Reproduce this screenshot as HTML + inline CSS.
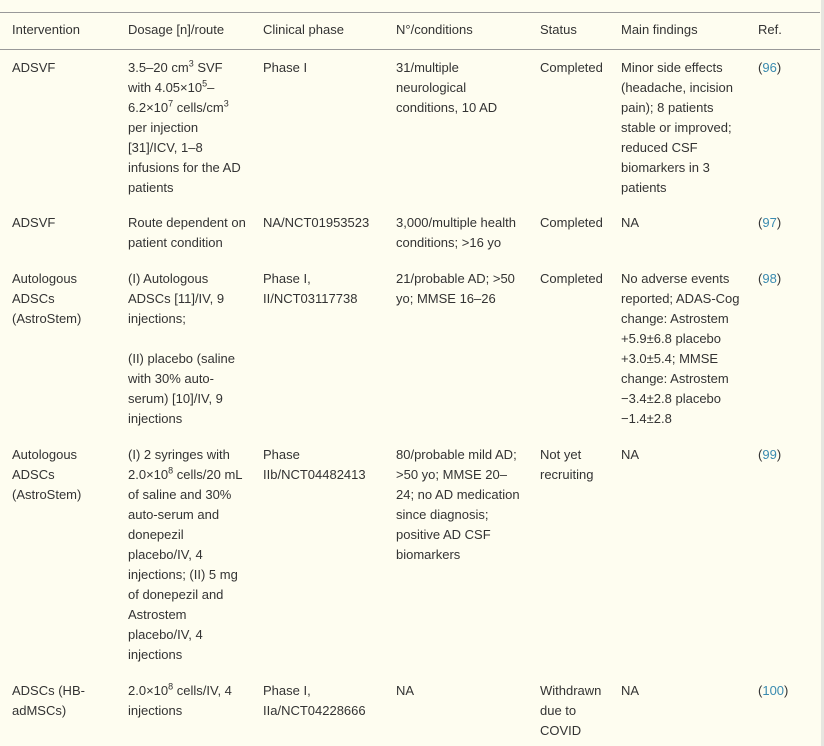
<!DOCTYPE html>
<html><head><meta charset="utf-8"><style>
body{margin:0;width:824px;height:746px;background:#fefdf0;font-family:"Liberation Sans",sans-serif;font-size:13px;color:#333;position:relative;overflow:hidden}
.c{position:absolute;line-height:20px;white-space:nowrap}
.l{position:absolute;left:0;width:820px;height:1px;background:#999}
.r{position:absolute;right:0;top:0;width:3px;height:746px;background:#e6e6e0}
a{color:#3a8bb0;text-decoration:none}
sup{font-size:9px;line-height:0}
</style></head><body>
<div class="l" style="top:12px"></div>
<div class="l" style="top:49px"></div>
<div class="r"></div>
<div class="c" style="left:12px;top:20px">Intervention</div>
<div class="c" style="left:128px;top:20px">Dosage [n]/route</div>
<div class="c" style="left:263px;top:20px">Clinical phase</div>
<div class="c" style="left:396px;top:20px">N°/conditions</div>
<div class="c" style="left:540px;top:20px">Status</div>
<div class="c" style="left:621px;top:20px">Main findings</div>
<div class="c" style="left:758px;top:20px">Ref.</div>

<div class="c" style="left:12px;top:58px">ADSVF</div>
<div class="c" style="left:128px;top:58px">3.5–20 cm<sup>3</sup> SVF<br>with 4.05×10<sup>5</sup>–<br>6.2×10<sup>7</sup> cells/cm<sup>3</sup><br>per injection<br>[31]/ICV, 1–8<br>infusions for the AD<br>patients</div>
<div class="c" style="left:263px;top:58px">Phase I</div>
<div class="c" style="left:396px;top:58px">31/multiple<br>neurological<br>conditions, 10 AD</div>
<div class="c" style="left:540px;top:58px">Completed</div>
<div class="c" style="left:621px;top:58px">Minor side effects<br>(headache, incision<br>pain); 8 patients<br>stable or improved;<br>reduced CSF<br>biomarkers in 3<br>patients</div>
<div class="c" style="left:758px;top:58px">(<a>96</a>)</div>

<div class="c" style="left:12px;top:213px">ADSVF</div>
<div class="c" style="left:128px;top:213px">Route dependent on<br>patient condition</div>
<div class="c" style="left:263px;top:213px">NA/NCT01953523</div>
<div class="c" style="left:396px;top:213px">3,000/multiple health<br>conditions; &gt;16 yo</div>
<div class="c" style="left:540px;top:213px">Completed</div>
<div class="c" style="left:621px;top:213px">NA</div>
<div class="c" style="left:758px;top:213px">(<a>97</a>)</div>

<div class="c" style="left:12px;top:269px">Autologous<br>ADSCs<br>(AstroStem)</div>
<div class="c" style="left:128px;top:269px">(I) Autologous<br>ADSCs [11]/IV, 9<br>injections;<br><br>(II) placebo (saline<br>with 30% auto-<br>serum) [10]/IV, 9<br>injections</div>
<div class="c" style="left:263px;top:269px">Phase I,<br>II/NCT03117738</div>
<div class="c" style="left:396px;top:269px">21/probable AD; &gt;50<br>yo; MMSE 16–26</div>
<div class="c" style="left:540px;top:269px">Completed</div>
<div class="c" style="left:621px;top:269px">No adverse events<br>reported; ADAS-Cog<br>change: Astrostem<br>+5.9±6.8 placebo<br>+3.0±5.4; MMSE<br>change: Astrostem<br>−3.4±2.8 placebo<br>−1.4±2.8</div>
<div class="c" style="left:758px;top:269px">(<a>98</a>)</div>

<div class="c" style="left:12px;top:445px">Autologous<br>ADSCs<br>(AstroStem)</div>
<div class="c" style="left:128px;top:445px">(I) 2 syringes with<br>2.0×10<sup>8</sup> cells/20 mL<br>of saline and 30%<br>auto-serum and<br>donepezil<br>placebo/IV, 4<br>injections; (II) 5 mg<br>of donepezil and<br>Astrostem<br>placebo/IV, 4<br>injections</div>
<div class="c" style="left:263px;top:445px">Phase<br>IIb/NCT04482413</div>
<div class="c" style="left:396px;top:445px">80/probable mild AD;<br>&gt;50 yo; MMSE 20–<br>24; no AD medication<br>since diagnosis;<br>positive AD CSF<br>biomarkers</div>
<div class="c" style="left:540px;top:445px">Not yet<br>recruiting</div>
<div class="c" style="left:621px;top:445px">NA</div>
<div class="c" style="left:758px;top:445px">(<a>99</a>)</div>

<div class="c" style="left:12px;top:681px">ADSCs (HB-<br>adMSCs)</div>
<div class="c" style="left:128px;top:681px">2.0×10<sup>8</sup> cells/IV, 4<br>injections</div>
<div class="c" style="left:263px;top:681px">Phase I,<br>IIa/NCT04228666</div>
<div class="c" style="left:396px;top:681px">NA</div>
<div class="c" style="left:540px;top:681px">Withdrawn<br>due to<br>COVID</div>
<div class="c" style="left:621px;top:681px">NA</div>
<div class="c" style="left:758px;top:681px">(<a>100</a>)</div>
</body></html>
